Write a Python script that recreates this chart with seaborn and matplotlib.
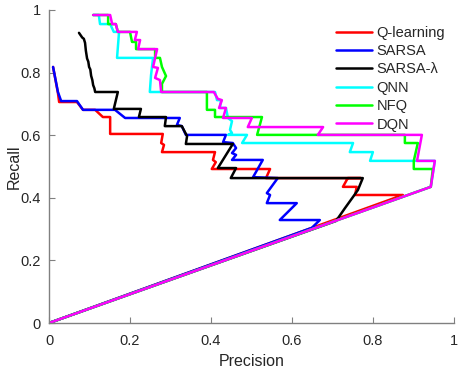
import matplotlib
matplotlib.use("Agg")
import matplotlib.pyplot as plt
import seaborn as sns
import pandas as pd

# precision / recall points, one list pair per method
methods = ["Q-learning", "SARSA", "SARSA-\u03bb", "QNN", "NFQ", "DQN"]
colors = ["#ff0000", "#0000ff", "#000000", "#00ffff", "#00ff00", "#ff00ff"]

ql_p = [0.010, 0.022, 0.025, 0.069, 0.084, 0.114, 0.133, 0.151, 0.151, 0.281, 0.277, 0.284, 0.279,
        0.410, 0.405, 0.412, 0.402, 0.546, 0.536, 0.770, 0.738, 0.726, 0.760, 0.756, 0.874, 0.0]
ql_r = [0.818, 0.735, 0.706, 0.706, 0.681, 0.681, 0.658, 0.658, 0.604, 0.604, 0.575, 0.569, 0.546,
        0.546, 0.521, 0.514, 0.492, 0.492, 0.463, 0.463, 0.463, 0.435, 0.435, 0.409, 0.409, 0.0]

sarsa_p = [0.010, 0.022, 0.030, 0.069, 0.084, 0.163, 0.188, 0.323, 0.316, 0.328, 0.338, 0.437, 0.430,
           0.454, 0.462, 0.452, 0.462, 0.452, 0.528, 0.504, 0.565, 0.538, 0.546, 0.538, 0.612, 0.570,
           0.669, 0.649, 0.0]
sarsa_r = [0.818, 0.738, 0.709, 0.709, 0.681, 0.681, 0.655, 0.655, 0.633, 0.629, 0.601, 0.601, 0.578,
           0.575, 0.559, 0.543, 0.537, 0.521, 0.521, 0.466, 0.463, 0.415, 0.409, 0.383, 0.383, 0.329,
           0.329, 0.304, 0.0]

sl_p = [0.074, 0.082, 0.086, 0.089, 0.091, 0.094, 0.097, 0.099, 0.102, 0.104, 0.107, 0.109, 0.112,
        0.114, 0.170, 0.160, 0.227, 0.222, 0.289, 0.286, 0.328, 0.341, 0.338, 0.454, 0.417, 0.462,
        0.449, 0.775, 0.763, 0.751, 0.731, 0.709, 0.0]
sl_r = [0.927, 0.912, 0.908, 0.895, 0.870, 0.845, 0.835, 0.818, 0.810, 0.790, 0.776, 0.760, 0.750,
        0.738, 0.738, 0.684, 0.684, 0.658, 0.658, 0.629, 0.629, 0.597, 0.572, 0.572, 0.495, 0.495,
        0.463, 0.463, 0.425, 0.403, 0.367, 0.326, 0.0]

qnn_p = [0.109, 0.123, 0.126, 0.151, 0.160, 0.173, 0.168, 0.257, 0.252, 0.249, 0.410, 0.415, 0.425,
         0.422, 0.437, 0.442, 0.452, 0.447, 0.452, 0.442, 0.489, 0.477, 0.751, 0.743, 0.800, 0.793,
         0.953, 0.943, 0.0]
qnn_r = [0.984, 0.984, 0.955, 0.955, 0.930, 0.930, 0.847, 0.847, 0.792, 0.738, 0.738, 0.712, 0.712,
         0.687, 0.687, 0.655, 0.645, 0.617, 0.607, 0.601, 0.601, 0.575, 0.575, 0.546, 0.546, 0.518,
         0.518, 0.435, 0.0]

nfq_p = [0.109, 0.146, 0.146, 0.165, 0.170, 0.200, 0.205, 0.215, 0.215, 0.262, 0.262, 0.274, 0.279,
         0.289, 0.279, 0.279, 0.390, 0.390, 0.410, 0.410, 0.526, 0.514, 0.879, 0.879, 0.911, 0.901,
         0.901, 0.948, 0.943, 0.0]
nfq_r = [0.984, 0.984, 0.955, 0.955, 0.930, 0.930, 0.898, 0.898, 0.875, 0.875, 0.847, 0.847, 0.818,
         0.789, 0.764, 0.738, 0.738, 0.681, 0.681, 0.658, 0.658, 0.601, 0.601, 0.575, 0.575, 0.518,
         0.492, 0.492, 0.435, 0.0]

dqn_p = [0.109, 0.151, 0.156, 0.165, 0.170, 0.217, 0.212, 0.225, 0.220, 0.267, 0.257, 0.269, 0.262,
         0.274, 0.277, 0.407, 0.417, 0.427, 0.420, 0.437, 0.430, 0.501, 0.491, 0.677, 0.664, 0.921,
         0.909, 0.953, 0.943, 0.0]
dqn_r = [0.984, 0.984, 0.955, 0.955, 0.930, 0.930, 0.904, 0.904, 0.875, 0.875, 0.818, 0.815, 0.783,
         0.776, 0.738, 0.738, 0.716, 0.712, 0.687, 0.687, 0.655, 0.655, 0.626, 0.626, 0.601, 0.601,
         0.518, 0.518, 0.435, 0.0]

ticks = [0, 0.2, 0.4, 0.6, 0.8, 1]
tick_labels = ["0", "0.2", "0.4", "0.6", "0.8", "1"]

curves = [(ql_p, ql_r), (sarsa_p, sarsa_r), (sl_p, sl_r), (qnn_p, qnn_r), (nfq_p, nfq_r), (dqn_p, dqn_r)]
frames = []
for name, (p, r) in zip(methods, curves):
    frames.append(pd.DataFrame({"Precision": p, "Recall": r, "method": name}))
df = pd.concat(frames, ignore_index=True)

sns.set_style("ticks")
plt.rcParams["font.family"] = ["Liberation Sans", "DejaVu Sans"]

fig = plt.figure(figsize=(4.59, 3.70), dpi=100)
ax = fig.add_axes([0.1068, 0.127, 0.882, 0.846])

sns.lineplot(data=df, x="Precision", y="Recall", hue="method", hue_order=methods,
             palette=colors, sort=False, estimator=None, units="method", linewidth=1.8, ax=ax)

ax.set_xlim(0, 1)
ax.set_ylim(0, 1)
ax.set_xticks(ticks)
ax.set_xticklabels(tick_labels)
ax.set_yticks(ticks)
ax.set_yticklabels(tick_labels)
ax.tick_params(direction="in", length=4, width=0.8, color="#808080", labelsize=10.5)
ax.tick_params(axis="x", pad=8)
ax.tick_params(axis="y", pad=6)
for side in ["top", "right"]:
    ax.spines[side].set_visible(False)
for side in ["left", "bottom"]:
    ax.spines[side].set_color("#808080")
    ax.spines[side].set_linewidth(1.0)
ax.set_xlabel("Precision", fontsize=11.5, labelpad=4)
ax.set_ylabel("Recall", fontsize=11.5, labelpad=-1)

handles, labels = ax.get_legend_handles_labels()
for h in handles:
    h.set_linewidth(1.8)
ax.legend(handles, labels, loc="upper left", bbox_to_anchor=(0.71, 0.95), frameon=False,
          fontsize=10.5, handlelength=2.45, handletextpad=0.28, labelspacing=0.3,
          borderpad=0, borderaxespad=0)

fig.savefig("out.png", dpi=100)
